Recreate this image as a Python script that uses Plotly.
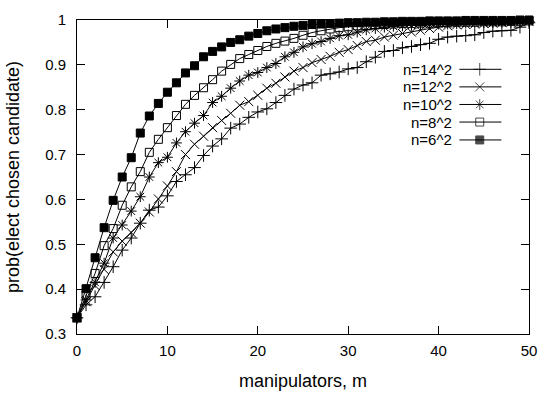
import plotly.graph_objects as go

m = list(range(0, 51))

n6 = [0.336, 0.401, 0.470, 0.537, 0.598, 0.650, 0.693, 0.748, 0.786, 0.814,
      0.839, 0.860, 0.882, 0.898, 0.918, 0.930, 0.940, 0.950, 0.956, 0.964,
      0.970, 0.976, 0.980, 0.983, 0.986, 0.988, 0.990, 0.991, 0.992, 0.993,
      0.994, 0.994, 0.995, 0.995, 0.996, 0.996, 0.997, 0.997, 0.997, 0.998,
      0.998, 0.998, 0.998, 0.999, 0.999, 0.999, 0.999, 0.999, 0.999, 1.000, 1.000]

n8 = [0.336, 0.387, 0.435, 0.497, 0.535, 0.587, 0.628, 0.662, 0.705, 0.734,
      0.760, 0.787, 0.812, 0.832, 0.849, 0.867, 0.886, 0.901, 0.914, 0.923,
      0.932, 0.941, 0.948, 0.953, 0.959, 0.966, 0.972, 0.976, 0.980, 0.983,
      0.985, 0.987, 0.988, 0.989, 0.990, 0.991, 0.992, 0.992, 0.993, 0.993,
      0.994, 0.994, 0.995, 0.995, 0.995, 0.996, 0.996, 0.996, 0.997, 0.997, 0.998]

n10 = [0.336, 0.376, 0.415, 0.458, 0.514, 0.543, 0.574, 0.606, 0.650, 0.682,
       0.694, 0.726, 0.751, 0.770, 0.787, 0.816, 0.830, 0.848, 0.864, 0.877,
       0.883, 0.894, 0.903, 0.918, 0.928, 0.940, 0.947, 0.952, 0.959, 0.965,
       0.967, 0.973, 0.978, 0.981, 0.984, 0.986, 0.987, 0.988, 0.989, 0.990,
       0.991, 0.991, 0.992, 0.993, 0.993, 0.994, 0.994, 0.995, 0.995, 0.996, 0.997]

n12 = [0.336, 0.372, 0.408, 0.444, 0.483, 0.507, 0.526, 0.547, 0.572, 0.601,
       0.630, 0.662, 0.700, 0.723, 0.741, 0.760, 0.776, 0.792, 0.810, 0.818,
       0.832, 0.848, 0.859, 0.873, 0.886, 0.894, 0.905, 0.912, 0.919, 0.928,
       0.934, 0.943, 0.952, 0.955, 0.962, 0.966, 0.970, 0.973, 0.977, 0.981,
       0.984, 0.987, 0.989, 0.990, 0.991, 0.992, 0.993, 0.994, 0.995, 0.996, 0.997]

n14 = [0.336, 0.365, 0.383, 0.415, 0.450, 0.487, 0.514, 0.547, 0.576, 0.583,
       0.608, 0.640, 0.655, 0.671, 0.698, 0.719, 0.735, 0.759, 0.768, 0.783,
       0.795, 0.802, 0.816, 0.832, 0.846, 0.855, 0.860, 0.877, 0.880, 0.884,
       0.891, 0.894, 0.907, 0.917, 0.930, 0.932, 0.938, 0.941, 0.945, 0.948,
       0.957, 0.962, 0.964, 0.965, 0.967, 0.972, 0.975, 0.976, 0.977, 0.984, 0.994]

labels = ["n=14^2", "n=12^2", "n=10^2", "n=8^2", "n=6^2"]
series = [n14, n12, n10, n8, n6]
symbols = ["cross-thin", "x-thin", "asterisk", "square-open", "square"]
sizes = [9, 9, 9, 8, 8]

x_ticks = [0, 10, 20, 30, 40, 50]
y_ticks = [0.3, 0.4, 0.5, 0.6, 0.7, 0.8, 0.9, 1.0]
y_ticktext = ["0.3", "0.4", "0.5", "0.6", "0.7", "0.8", "0.9", "1"]

FONT = "Liberation Sans, Arial, sans-serif"
FS = 15
fig = go.Figure()

for lab, ys, sym, sz in zip(labels, series, symbols, sizes):
    fig.add_trace(go.Scatter(
        x=m, y=ys, mode="lines+markers", name=lab, showlegend=False,
        cliponaxis=False,
        line=dict(color="black", width=1),
        marker=dict(symbol=sym, size=sz, color="black",
                    line=dict(color="black", width=1)),
    ))

# custom gnuplot-style key (text right-aligned, sample on the right)
key_y = [0.843, 0.787, 0.731, 0.675, 0.618]
for lab, sym, sz, ky in zip(labels, symbols, sizes, key_y):
    fig.add_trace(go.Scatter(
        x=[0.846, 0.891, 0.939], y=[ky, ky, ky], mode="lines+markers",
        xaxis="x2", yaxis="y2", showlegend=False, hoverinfo="skip",
        line=dict(color="black", width=1),
        marker=dict(symbol=sym, size=[0, sz, 0], color="black",
                    line=dict(color="black", width=1)),
    ))
    fig.add_annotation(x=0.834, y=ky, xref="paper", yref="paper", text=lab,
                       showarrow=False, xanchor="right", yanchor="middle",
                       font=dict(family=FONT, size=FS, color="black"))

fig.update_layout(
    width=548, height=399,
    margin=dict(l=77, r=11, t=11, b=62),
    paper_bgcolor="white", plot_bgcolor="white",
    font=dict(family=FONT, size=FS, color="black"),
    xaxis=dict(range=[0, 50], tickvals=x_ticks, ticks="inside", ticklen=8,
               tickcolor="black", showline=True, linecolor="black", linewidth=1,
               mirror="ticks", showgrid=False, zeroline=False,
               ticklabelstandoff=3,
               title=dict(text="manipulators, m", standoff=16),
               tickfont=dict(size=FS)),
    yaxis=dict(range=[0.3, 1.0], tickvals=y_ticks, ticktext=y_ticktext,
               ticks="inside", ticklen=8, tickcolor="black", showline=True,
               linecolor="black", linewidth=1, mirror="ticks", showgrid=False,
               zeroline=False, ticklabelstandoff=7,
               title=dict(text="prob(elect chosen candidate)", standoff=20),
               tickfont=dict(size=FS)),
    xaxis2=dict(overlaying="x", range=[0, 1], visible=False, anchor="y2"),
    yaxis2=dict(overlaying="y", range=[0, 1], visible=False, anchor="x2"),
)

fig.write_html("out.html")
